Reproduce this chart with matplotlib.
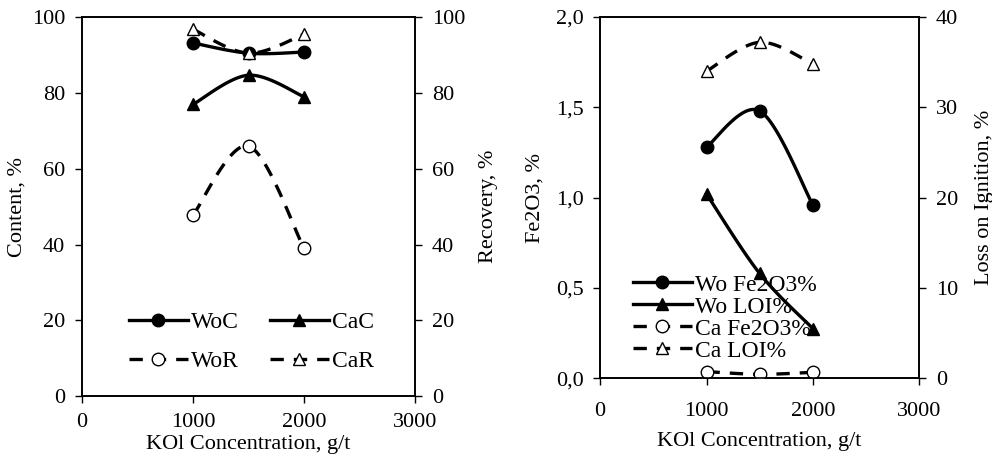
import numpy as np
import matplotlib
matplotlib.use('Agg')
import matplotlib.pyplot as plt
from matplotlib.lines import Line2D
from matplotlib.ticker import FuncFormatter

plt.rcParams['font.family'] = ['Liberation Serif', 'DejaVu Serif']
plt.rcParams['font.size'] = 16

# KOl concentration, g/t
kol = [1000, 1500, 2000]

# left panel
woc = [93.2, 90.5, 90.8]   # content, %
cac = [77.0, 84.7, 79.0]
wor = [47.8, 66.0, 39.0]   # recovery, %
car = [96.8, 90.5, 95.5]

# right panel
wo_fe = [1.28, 1.48, 0.96]   # Fe2O3, %
ca_fe = [0.037, 0.022, 0.033]
wo_loi = [20.4, 11.6, 5.5]   # loss on ignition, %
ca_loi = [34.0, 37.2, 34.8]


def smooth(x, y, n=40):
    # excel style smoothed line (catmull-rom bezier)
    x = np.asarray(x, float)
    y = np.asarray(y, float)
    px = np.concatenate([[x[0]], x, [x[-1]]])
    py = np.concatenate([[y[0]], y, [y[-1]]])
    xs, ys = [], []
    t = np.linspace(0, 1, n)
    for i in range(1, len(x)):
        p0 = np.array([px[i], py[i]])
        p3 = np.array([px[i + 1], py[i + 1]])
        c1 = p0 + (p3 - np.array([px[i - 1], py[i - 1]])) / 6
        c2 = p3 - (np.array([px[i + 2], py[i + 2]]) - p0) / 6
        b = ((1 - t) ** 3)[:, None] * p0 + (3 * (1 - t) ** 2 * t)[:, None] * c1 \
            + (3 * (1 - t) * t ** 2)[:, None] * c2 + (t ** 3)[:, None] * p3
        xs.extend(b[:, 0])
        ys.extend(b[:, 1])
    return xs, ys


def series(ax, x, y, ls, marker, filled):
    sx, sy = smooth(x, y)
    dash = (0, (4, 3)) if ls == '--' else '-'
    ax.plot(sx, sy, color='black', lw=2.4, linestyle=dash, zorder=2)
    ax.plot(x, y, linestyle='none', marker=marker, ms=9,
            mfc='black' if filled else 'white', mec='black', mew=1.0, zorder=3)


def handle(ls, marker, filled):
    dash = (0, (4, 3)) if ls == '--' else '-'
    return Line2D([], [], color='black', lw=2.4, linestyle=dash, marker=marker, ms=9,
                  mfc='black' if filled else 'white', mec='black', mew=1.0)


fig = plt.figure(figsize=(9.92, 4.65), dpi=100)

# ---- left panel ----
ax1 = fig.add_axes([0.0827, 0.148, 0.3357, 0.815])
ax1r = ax1.twinx()
series(ax1, kol, woc, '-', 'o', True)
series(ax1, kol, cac, '-', '^', True)
series(ax1r, kol, wor, '--', 'o', False)
series(ax1r, kol, car, '--', '^', False)
for a in (ax1, ax1r):
    a.set_xlim(0, 3000)
    a.set_ylim(0, 100)
    a.set_yticks(range(0, 101, 20))
    a.tick_params(direction='out', length=5, width=1, pad=7)
ax1.set_xticks(range(0, 3001, 1000))
ax1.set_xlabel('KOl Concentration, g/t', labelpad=2)
ax1.set_ylabel('Content, %', labelpad=4)
ax1r.set_ylabel('Recovery, %', labelpad=10)
h1 = [handle('-', 'o', True), handle('--', 'o', False),
      handle('-', '^', True), handle('--', '^', False)]
ax1.legend(h1, ['WoC', 'WoR', 'CaC', 'CaR'], ncol=2, frameon=False,
           loc='lower left', bbox_to_anchor=(0.09, 0.02), handlelength=2.5,
           handletextpad=0.15, columnspacing=1.3, labelspacing=0.75, fontsize=17,
           borderpad=0.2)

# ---- right panel ----
ax2 = fig.add_axes([0.605, 0.1865, 0.3216, 0.777])
ax2r = ax2.twinx()
series(ax2, kol, wo_fe, '-', 'o', True)
series(ax2r, kol, wo_loi, '-', '^', True)
series(ax2, kol, ca_fe, '--', 'o', False)
series(ax2r, kol, ca_loi, '--', '^', False)
ax2.set_xlim(0, 3000)
ax2.set_ylim(0, 2.0)
ax2.set_yticks([0, 0.5, 1.0, 1.5, 2.0])
ax2.yaxis.set_major_formatter(FuncFormatter(lambda v, p: f'{v:.1f}'.replace('.', ',')))
ax2r.set_ylim(0, 40)
ax2r.set_yticks(range(0, 41, 10))
for a in (ax2, ax2r):
    a.tick_params(direction='out', length=5, width=1, pad=7)
ax2.tick_params(axis='x', pad=12)
ax2.set_xticks(range(0, 3001, 1000))
ax2.set_xlabel('KOl Concentration, g/t', labelpad=8)
ax2.set_ylabel('Fe2O3, %', labelpad=8)
ax2r.set_ylabel('Loss on Ignition, %', labelpad=12)
h2 = [handle('-', 'o', True), handle('-', '^', True),
      handle('--', 'o', False), handle('--', '^', False)]
ax2r.legend(h2, ['Wo Fe2O3%', 'Wo LOI%', 'Ca Fe2O3%', 'Ca LOI%'], frameon=False,
            loc='lower left', bbox_to_anchor=(0.05, 0.0), handlelength=2.5,
            handletextpad=0.15, labelspacing=0.02, fontsize=17, borderpad=0.2)

for a in (ax1, ax1r, ax2, ax2r):
    for s in a.spines.values():
        s.set_linewidth(1.2)

fig.savefig('out.png', dpi=100)
